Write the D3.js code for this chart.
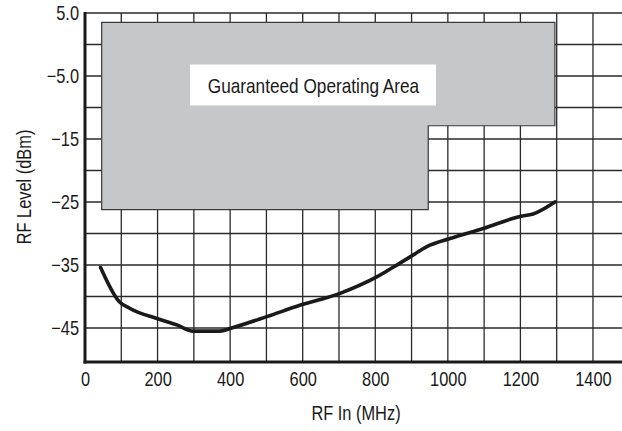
<!DOCTYPE html>
<html>
<head>
<meta charset="utf-8">
<script src="https://cdn.jsdelivr.net/npm/d3@7"></script>
<style>
  html, body { margin: 0; padding: 0; background: #fff; }
  svg { display: block; }
  text { font-family: "Liberation Sans", Arial, Helvetica, sans-serif; fill: #1a1a1a; }
</style>
</head>
<body>
<svg id="chart" width="622" height="431"></svg>
<script>
// ---- data ----
const freqMHz = [43, 94, 124, 198, 253, 298, 372, 404, 501, 592, 703, 804, 868, 905, 942, 1006, 1098, 1199, 1235, 1295];
const rfLevel = [-35.4, -40.8, -41.9, -43.5, -44.5, -45.5, -45.5, -45.0, -43.2, -41.4, -39.5, -36.9, -34.7, -33.4, -32.1, -30.8, -29.2, -27.3, -26.9, -25.0];
const xTickValues = [0, 200, 400, 600, 800, 1000, 1200, 1400];
const yTickValues = [5, -5, -15, -25, -35, -45];
const yTickLabels = ["5.0", "\u22125.0", "\u221215", "\u221225", "\u221235", "\u221245"];
const xGridValues = [100, 200, 300, 400, 500, 600, 700, 800, 900, 1000, 1100, 1200, 1300, 1400];
const yGridValues = [5, 0, -5, -10, -15, -20, -25, -30, -35, -40, -45];
// Guaranteed operating area outline (MHz, dBm)
const areaFreq  = [46, 1295, 1295, 946, 946, 46];
const areaLevel = [3.5, 3.5, -12.9, -12.9, -26.2, -26.2];
const areaLabel = "Guaranteed Operating Area";
const xTitle = "RF In (MHz)";
const yTitle = "RF Level (dBm)";

// ---- layout ----
const NARROW = 0.82; // condensed look (no narrow font installed)
const svg = d3.select("#chart");
const x = d3.scaleLinear().domain([0, 1480]).range([85, 622]);
const y = d3.scaleLinear().domain([-50.4, 5]).range([362, 13]);

// grid
const grid = svg.append("g").attr("stroke", "#2a2a2a").attr("stroke-width", 1.3);
grid.selectAll("line.v").data(xGridValues).join("line")
  .attr("class", "v")
  .attr("x1", d => x(d)).attr("x2", d => x(d))
  .attr("y1", y(5)).attr("y2", y(-50.4));
grid.selectAll("line.h").data(yGridValues).join("line")
  .attr("class", "h")
  .attr("x1", x(0)).attr("x2", x(1480))
  .attr("y1", d => y(d)).attr("y2", d => y(d));

// operating area
const areaPts = areaFreq.map((f, i) => [x(f), y(areaLevel[i])]);
svg.append("path")
  .attr("d", d3.line()(areaPts) + "Z")
  .attr("fill", "#c6c7c9")
  .attr("stroke", "#3a3a3a")
  .attr("stroke-width", 1.2);

// label box
const lbl = svg.append("g");
lbl.append("rect")
  .attr("x", 190).attr("y", 64.5).attr("width", 246).attr("height", 41)
  .attr("fill", "#fff");
lbl.append("text")
  .attr("transform", `translate(313.5,92.5) scale(${NARROW},1)`)
  .attr("text-anchor", "middle")
  .attr("font-size", 21)
  .text(areaLabel);

// curve
svg.append("path")
  .datum(freqMHz.map((f, i) => [f, rfLevel[i]]))
  .attr("fill", "none")
  .attr("stroke", "#1a1a1a")
  .attr("stroke-width", 3.6)
  .attr("stroke-linejoin", "round")
  .attr("stroke-linecap", "round")
  .attr("d", d3.line().x(d => x(d[0])).y(d => y(d[1])).curve(d3.curveMonotoneX));

// axes
const xAxis = d3.axisBottom(x).tickValues(xTickValues).tickSize(0).tickPadding(10).tickFormat(d3.format("d"));
const gx = svg.append("g").attr("transform", `translate(0,${y(-50.4)})`).call(xAxis);
gx.select(".domain").remove();
gx.selectAll("text").attr("font-size", 20).attr("fill", "#1a1a1a")
  .attr("font-family", "Liberation Sans, Arial, sans-serif")
  .attr("transform", `scale(${NARROW},1)`);

const yPad = 6;
const yAxis = d3.axisLeft(y).tickValues(yTickValues).tickSize(0).tickPadding(yPad)
  .tickFormat((d, i) => yTickLabels[i]);
const gy = svg.append("g").attr("transform", `translate(${x(0)},0)`).call(yAxis);
gy.select(".domain").remove();
gy.selectAll("text").attr("font-size", 20).attr("fill", "#1a1a1a")
  .attr("font-family", "Liberation Sans, Arial, sans-serif")
  .attr("x", -yPad / NARROW)
  .attr("transform", `scale(${NARROW},1)`);

// thick axis lines
svg.append("line").attr("x1", x(0)).attr("x2", x(0)).attr("y1", y(5) - 1).attr("y2", y(-50.4) + 1.5)
  .attr("stroke", "#1a1a1a").attr("stroke-width", 3);
svg.append("line").attr("x1", x(0) - 1.5).attr("x2", x(1480)).attr("y1", y(-50.4)).attr("y2", y(-50.4))
  .attr("stroke", "#1a1a1a").attr("stroke-width", 3);

// titles
svg.append("text").attr("transform", `translate(356,420) scale(${NARROW},1)`).attr("text-anchor", "middle")
  .attr("font-size", 20).text(xTitle);
svg.append("text").attr("transform", `translate(31,187) rotate(-90) scale(${NARROW},1)`).attr("text-anchor", "middle")
  .attr("font-size", 20).text(yTitle);
</script>
</body>
</html>
